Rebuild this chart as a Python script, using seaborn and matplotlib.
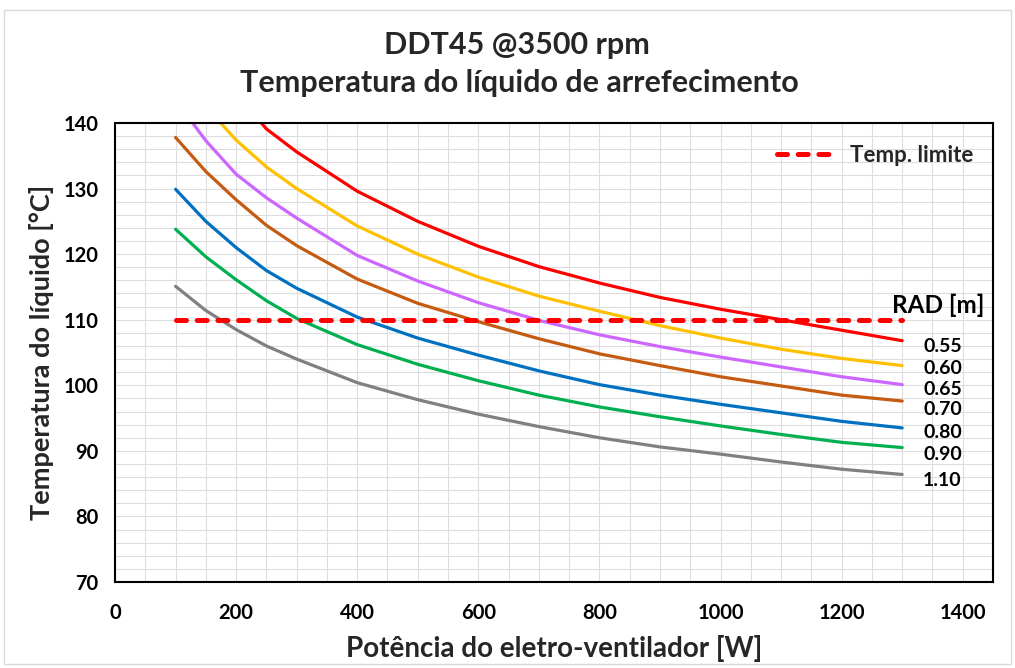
import matplotlib
matplotlib.use("Agg")
import matplotlib.pyplot as plt
from matplotlib.patches import Rectangle
from matplotlib.ticker import MultipleLocator
import pandas as pd
import seaborn as sns

# Fan power [W]
power = [100, 150, 200, 250, 300, 400, 500, 600, 700, 800, 900, 1000, 1100, 1200, 1300]

# Coolant temperature [°C] for each radiator size
t_055 = [168.0, 153.0, 144.5, 139.1, 135.6, 129.6, 125.0, 121.2, 118.1, 115.6, 113.4, 111.6, 110.0, 108.4, 106.8]
t_060 = [150.0, 142.5, 137.4, 133.3, 130.0, 124.3, 120.0, 116.5, 113.6, 111.3, 109.1, 107.2, 105.5, 104.1, 103.0]
t_065 = [143.5, 137.3, 132.2, 128.6, 125.5, 119.8, 115.9, 112.6, 109.9, 107.7, 105.9, 104.3, 102.8, 101.3, 100.1]
t_070 = [137.8, 132.6, 128.3, 124.4, 121.3, 116.2, 112.5, 109.7, 107.1, 104.8, 103.0, 101.3, 99.9, 98.5, 97.6]
t_080 = [129.9, 125.0, 121.0, 117.5, 114.8, 110.4, 107.2, 104.6, 102.2, 100.1, 98.5, 97.1, 95.8, 94.5, 93.5]
t_090 = [123.8, 119.6, 116.1, 112.9, 110.2, 106.2, 103.2, 100.7, 98.5, 96.7, 95.2, 93.8, 92.5, 91.3, 90.5]
t_110 = [115.1, 111.4, 108.5, 106.0, 104.0, 100.4, 97.8, 95.6, 93.7, 92.0, 90.6, 89.5, 88.3, 87.2, 86.4]

rad_labels = ["0.55", "0.60", "0.65", "0.70", "0.80", "0.90", "1.10"]
rad_series = [t_055, t_060, t_065, t_070, t_080, t_090, t_110]

# Temperature limit
limit_power = [100, 1300]
limit_temp = [110, 110]
limit_label = "Temp. limite"

x_ticks = [0, 200, 400, 600, 800, 1000, 1200, 1400]
y_ticks = [70, 80, 90, 100, 110, 120, 130, 140]

colors = {
    "0.55": "#FF0000",
    "0.60": "#FFC000",
    "0.65": "#CC66FF",
    "0.70": "#C55A11",
    "0.80": "#0070C0",
    "0.90": "#00B050",
    "1.10": "#808080",
}

# vertical nudge (points) of each end label relative to its line end
label_dy = [-2.9, -0.8, -2.2, -5.2, -2.4, -4.1, -3.5]

df = pd.DataFrame(
    [(p, t, rad) for rad, series in zip(rad_labels, rad_series) for p, t in zip(power, series)],
    columns=["power", "temp", "rad"],
)
df_limit = pd.DataFrame({"power": limit_power, "temp": limit_temp})

sns.set_theme(style="white")
plt.rcParams["font.family"] = ["Lato", "DejaVu Sans"]
plt.rcParams["font.weight"] = "bold"
plt.rcParams["lines.scale_dashes"] = False

fig = plt.figure(figsize=(10.15, 6.68), dpi=100)
ax = fig.add_axes([115 / 1015, 86 / 668, 878 / 1015, 459 / 668])

sns.lineplot(
    data=df, x="power", y="temp", hue="rad", hue_order=rad_labels,
    palette=colors, estimator=None, linewidth=2.3, legend=False, ax=ax,
)
for line in ax.get_lines():
    line.set_solid_joinstyle("round")

sns.lineplot(
    data=df_limit, x="power", y="temp", color="#FF0000", linewidth=3.6,
    label=limit_label, estimator=None, ax=ax, zorder=3,
)
limit_line = ax.get_lines()[-1]
limit_line.set_dashes((7.2, 7.7))
limit_line.set_dash_capstyle("round")

ax.set_xlim(0, 1450)
ax.set_ylim(70, 140)
ax.set_xticks(x_ticks)
ax.set_yticks(y_ticks)
ax.xaxis.set_minor_locator(MultipleLocator(50))
ax.yaxis.set_minor_locator(MultipleLocator(2))
ax.grid(True, which="both", color="#DDDDDD", linewidth=0.8)
ax.set_axisbelow(True)

for s in ax.spines.values():
    s.set_visible(True)
    s.set_color("black")
    s.set_linewidth(1.5)

ax.tick_params(axis="both", which="major", direction="in", length=6, width=1.3,
               labelsize=14.5, pad=12, colors="black")
ax.tick_params(axis="both", which="minor", direction="in", length=4, width=1.0)
ax.tick_params(axis="x", which="major", pad=15)
ax.tick_params(top=False, right=False, which="both")
for lab in ax.get_xticklabels() + ax.get_yticklabels():
    lab.set_fontweight("bold")

ax.set_xlabel("Potência do eletro-ventilador [W]", fontsize=20, fontweight="bold", labelpad=9)
ax.set_ylabel("Temperatura do líquido [°C]", fontsize=19.5, fontweight="bold", labelpad=7)

# Curve labels at the right end of each line
for rad, series, dy in zip(rad_labels, rad_series, label_dy):
    ax.annotate(rad, xy=(power[-1], series[-1]), xytext=(15, dy),
                textcoords="offset points", ha="left", va="center_baseline",
                fontsize=14, fontweight="bold", color="black")
ax.text(1283, 112.2, "RAD [m]", ha="left", va="center", fontsize=17.5,
        fontweight="bold", color="black")

leg = ax.legend(loc="center left", bbox_to_anchor=((777 - 115) / 878, (582 - 155) / 459),
                frameon=False, fontsize=16, handlelength=2.5, handletextpad=0.8,
                borderpad=0, borderaxespad=0)
for t in leg.get_texts():
    t.set_fontweight("bold")

fig.text(517 / 1015, 1 - 45 / 668, "DDT45 @3500 rpm", ha="center", va="center",
         fontsize=22, fontweight="bold")
fig.text(519 / 1015, 1 - 83 / 668, "Temperatura do líquido de arrefecimento",
         ha="center", va="center", fontsize=22, fontweight="bold")

fig.add_artist(Rectangle((4 / 1015, 4 / 668), 1007 / 1015, 654 / 668,
                         transform=fig.transFigure, fill=False,
                         edgecolor="#D9D9D9", linewidth=1.0))

fig.savefig("out.png", dpi=100, facecolor="white")
